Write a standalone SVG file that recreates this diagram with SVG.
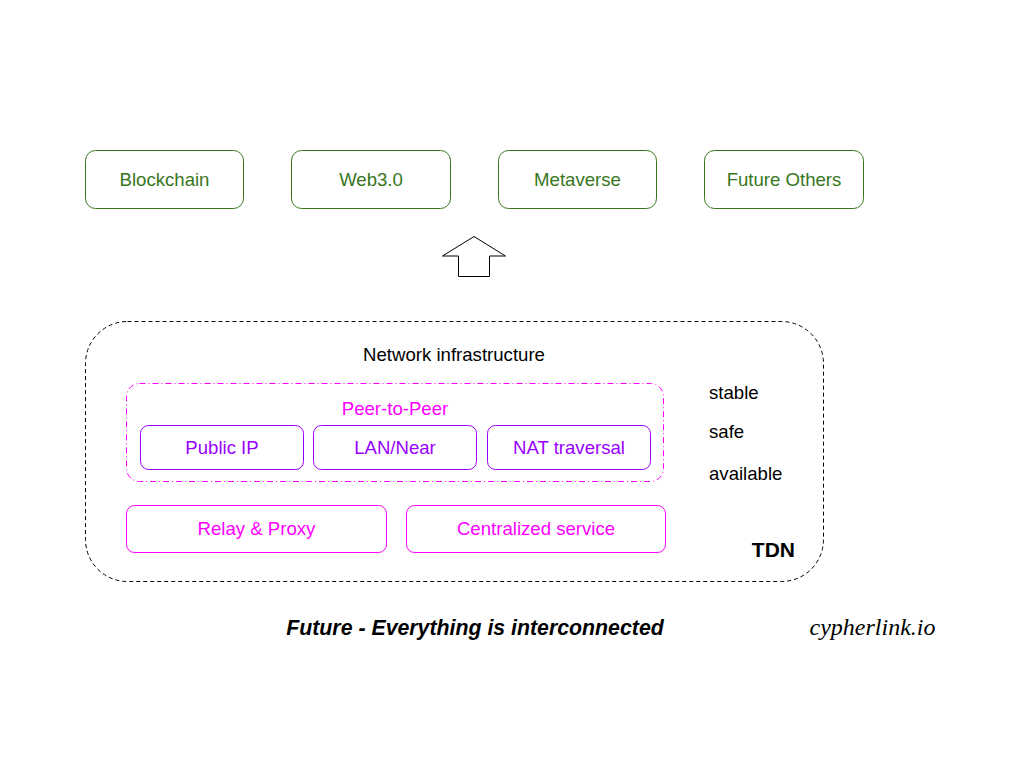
<svg xmlns="http://www.w3.org/2000/svg" width="1024" height="768" viewBox="0 0 1024 768">
<style>
text{font-family:"Liberation Sans",Arial,sans-serif;}
.g rect{fill:#fff;stroke:#38761d;stroke-width:1}
.g text{fill:#38761d;font-size:18.6px;text-anchor:middle}
.p rect{fill:#fff;stroke:#9900ff;stroke-width:1}
.p text{fill:#9900ff;font-size:18.6px;text-anchor:middle}
.m rect{fill:#fff;stroke:#ff00ff;stroke-width:1}
.m text{fill:#ff00ff;font-size:18.6px;text-anchor:middle}
.k{fill:#000;font-size:18.6px}
</style>
<rect width="1024" height="768" fill="#fff"/>
<g id="blockchain" class="g"><rect x="85.5" y="150.5" width="158" height="58" rx="10"/><text x="164.5" y="186">Blockchain</text></g>
<g id="web3" class="g"><rect x="291.5" y="150.5" width="159" height="58" rx="10"/><text x="371" y="186">Web3.0</text></g>
<g id="metaverse" class="g"><rect x="498.5" y="150.5" width="158" height="58" rx="10"/><text x="577.5" y="186">Metaverse</text></g>
<g id="future-others" class="g"><rect x="704.5" y="150.5" width="159" height="58" rx="10"/><text x="784" y="186">Future Others</text></g>
<g id="connectors"><polygon points="474,236.5 442.5,256 458.5,256 458.5,276.5 489.5,276.5 489.5,256 505.5,256" fill="#fff" stroke="#000" stroke-width="1"/></g>
<g id="tdn"><rect x="85.5" y="321.5" width="738" height="260" rx="42" fill="none" stroke="#000" stroke-width="1" stroke-dasharray="4,3"/>
<text class="k" x="454" y="361" text-anchor="middle">Network infrastructure</text>
<text class="k" x="709" y="399">stable</text>
<text class="k" x="709" y="438">safe</text>
<text class="k" x="709" y="480">available</text>
<text x="795" y="557" text-anchor="end" font-size="21" font-weight="bold" fill="#000">TDN</text></g>
<g id="p2p"><rect x="126.5" y="383.5" width="537" height="98" rx="13" fill="none" stroke="#ff00ff" stroke-width="1" stroke-dasharray="6,3,1,3"/><text x="395" y="415" text-anchor="middle" font-size="18.6" fill="#ff00ff">Peer-to-Peer</text></g>
<g id="public-ip" class="p"><rect x="140.5" y="425.5" width="163" height="44" rx="8"/><text x="222" y="454">Public IP</text></g>
<g id="lan-near" class="p"><rect x="313.5" y="425.5" width="163" height="44" rx="8"/><text x="395" y="454">LAN/Near</text></g>
<g id="nat" class="p"><rect x="487.5" y="425.5" width="163" height="44" rx="8"/><text x="569" y="454">NAT traversal</text></g>
<g id="relay" class="m"><rect x="126.5" y="505.5" width="260" height="47" rx="8"/><text x="256.5" y="535">Relay &amp; Proxy</text></g>
<g id="centralized" class="m"><rect x="406.5" y="505.5" width="259" height="47" rx="8"/><text x="536" y="535">Centralized service</text></g>
<text x="475" y="635" text-anchor="middle" font-size="21.3" font-weight="bold" font-style="italic" fill="#000">Future - Everything is interconnected</text>
<text x="872.5" y="635" text-anchor="middle" font-size="24" font-style="italic" fill="#000" style="font-family:'Liberation Serif',serif">cypherlink.io</text>
</svg>
